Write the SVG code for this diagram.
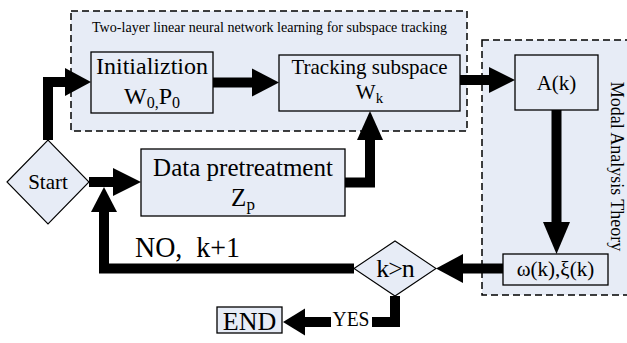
<svg xmlns="http://www.w3.org/2000/svg" width="627" height="343" viewBox="0 0 627 343">
<style>
.t{font-family:"Liberation Serif","Times New Roman",serif;fill:#000}
.grp{fill:#E7ECF6;stroke:#000;stroke-width:1.5;stroke-dasharray:7 4}
.box{fill:#E7ECF6;stroke:#000;stroke-width:1.3}
.dia{fill:#E7ECF6;stroke:#000;stroke-width:1.1}
.ln{fill:none;stroke:#000;stroke-width:10;stroke-linejoin:miter}
.hd{fill:#000}
</style>
<rect width="627" height="343" fill="#fff"/>
<g id="group-nn">
<rect class="grp" x="71" y="11" width="396" height="120"/>
<text class="t" x="92" y="32" font-size="14" textLength="355" lengthAdjust="spacingAndGlyphs">Two-layer linear neural network learning for subspace tracking</text>
</g>
<g id="group-modal">
<rect class="grp" x="482" y="40" width="150" height="255"/>
<text class="t" font-size="18" text-anchor="middle" transform="translate(611,166.5) rotate(90)">Modal Analysis Theory</text>
</g>
<g id="connectors">
<path class="ln" d="M48,140 V82 H66"/>
<polygon class="hd" points="65,68 91,82 65,96"/>
<path class="ln" d="M213,82.5 H253"/>
<polygon class="hd" points="252,68.5 279,82.5 252,96.5"/>
<path class="ln" d="M460,80 H490"/>
<polygon class="hd" points="489,67 515,80 489,93"/>
<path class="ln" d="M556.5,110 V223"/>
<polygon class="hd" points="543,222 556.5,254 570,222"/>
<path class="ln" d="M503,268.5 H462"/>
<polygon class="hd" points="463,254 436,268.5 463,283"/>
<path class="ln" d="M354,268.5 H104 V211"/>
<polygon class="hd" points="91,212 104,187 117,212"/>
<path class="ln" d="M89,182 H114"/>
<polygon class="hd" points="113,168 141,182 113,196"/>
<path class="ln" d="M345,182.5 H370 V139"/>
<polygon class="hd" points="357,140 370,111 383,140"/>
<path class="ln" d="M395,296 V322 H372"/>
<path class="ln" d="M331,322 H304"/>
<polygon class="hd" points="305,308.5 283,322 305,335.5"/>
<text class="t" x="351" y="326" font-size="21" text-anchor="middle" textLength="37" lengthAdjust="spacingAndGlyphs">YES</text>
<text class="t" x="135" y="257" font-size="30" textLength="105" lengthAdjust="spacingAndGlyphs" xml:space="preserve">NO,  k+1</text>
</g>
<g id="start">
<polygon class="dia" points="7,182 48,140 89,182 48,224"/>
<text class="t" x="48" y="189" font-size="21" text-anchor="middle">Start</text>
</g>
<g id="init">
<rect class="box" x="91" y="52" width="122" height="61"/>
<text class="t" x="152" y="74" font-size="24" text-anchor="middle">Initializtion</text>
<text class="t" x="152" y="104" font-size="24" text-anchor="middle">W<tspan font-size="16" dy="4">0,</tspan><tspan dy="-4">P</tspan><tspan font-size="16" dy="4">0</tspan></text>
</g>
<g id="tracking">
<rect class="box" x="279" y="55" width="181" height="56"/>
<text class="t" x="369.5" y="74" font-size="21" text-anchor="middle">Tracking subspace</text>
<text class="t" x="369.5" y="99" font-size="21" text-anchor="middle">W<tspan font-size="15" dy="4">k</tspan></text>
</g>
<g id="data">
<rect class="box" x="141" y="149" width="204" height="67"/>
<text class="t" x="243" y="176" font-size="25" text-anchor="middle">Data pretreatment</text>
<text class="t" x="243" y="206" font-size="25" text-anchor="middle">Z<tspan font-size="17" dy="4">p</tspan></text>
</g>
<g id="ak">
<rect class="box" x="515" y="55" width="83" height="55"/>
<text class="t" x="556.5" y="90" font-size="21" text-anchor="middle">A(k)</text>
</g>
<g id="omega">
<rect class="box" x="503" y="254" width="105" height="31"/>
<text class="t" x="555.5" y="276" font-size="21" text-anchor="middle">ω(k),ξ(k)</text>
</g>
<g id="cond">
<polygon class="dia" points="354,268.5 395,241 436,268.5 395,296"/>
<text class="t" x="395" y="277" font-size="26" text-anchor="middle" letter-spacing="-1">k&gt;n</text>
</g>
<g id="end">
<rect class="box" x="217" y="307" width="65" height="26"/>
<text class="t" x="249.5" y="330" font-size="26" text-anchor="middle">END</text>
</g>
</svg>
